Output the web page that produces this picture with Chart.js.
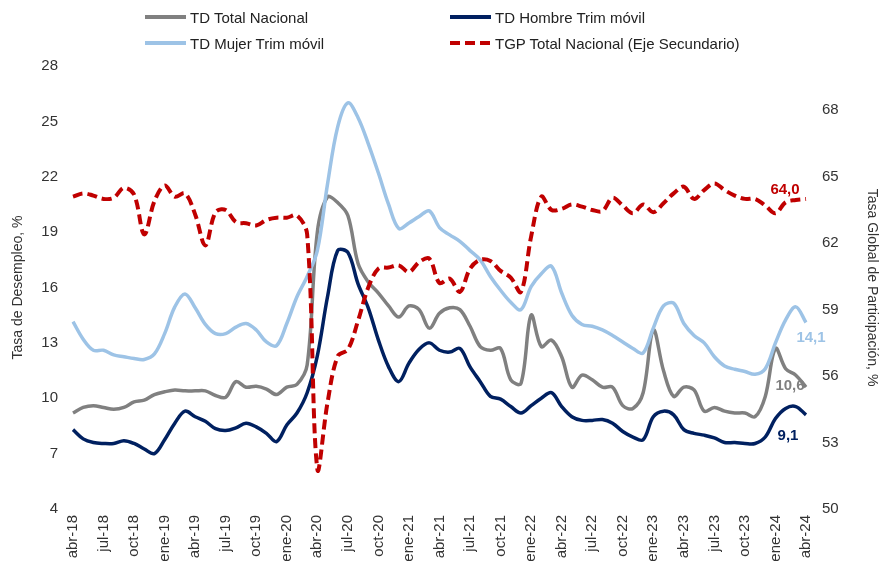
<!DOCTYPE html>
<html>
<head>
<meta charset="utf-8">
<title>Tasa de desempleo y TGP</title>
<script src="https://cdn.jsdelivr.net/npm/chart.js@4"></script>
<style>
  html, body { margin: 0; padding: 0; background: #fff; }
  #wrap { position: relative; width: 888px; height: 567px; }
  #legend { position: absolute; left: 0; top: 0; width: 888px; height: 60px;
    font: 15px 'Liberation Sans', Arial, sans-serif; color: #222; }
  .item { position: absolute; height: 20px; display: flex; align-items: center; white-space: nowrap; }
  .swatch { width: 41px; height: 4px; margin-right: 4px; }
</style>
</head>
<body>
<div id="wrap">
  <canvas id="chart" width="888" height="567"></canvas>
  <div id="legend"></div>
</div>
<script>
const months = [
  'abr-18','may-18','jun-18','jul-18','ago-18','sep-18','oct-18','nov-18','dic-18',
  'ene-19','feb-19','mar-19','abr-19','may-19','jun-19','jul-19','ago-19','sep-19','oct-19','nov-19','dic-19',
  'ene-20','feb-20','mar-20','abr-20','may-20','jun-20','jul-20','ago-20','sep-20','oct-20','nov-20','dic-20',
  'ene-21','feb-21','mar-21','abr-21','may-21','jun-21','jul-21','ago-21','sep-21','oct-21','nov-21','dic-21',
  'ene-22','feb-22','mar-22','abr-22','may-22','jun-22','jul-22','ago-22','sep-22','oct-22','nov-22','dic-22',
  'ene-23','feb-23','mar-23','abr-23','may-23','jun-23','jul-23','ago-23','sep-23','oct-23','nov-23','dic-23',
  'ene-24','feb-24','mar-24','abr-24'
];

const tdTotal = [
  9.2, 9.5, 9.6, 9.5, 9.4, 9.5, 9.8, 9.9, 10.2,
  10.35, 10.45, 10.4, 10.4, 10.4, 10.15, 10.05, 10.9, 10.6, 10.65, 10.5, 10.2,
  10.6, 10.75, 11.8, 19.0, 20.9, 20.6, 19.9, 17.3, 16.3, 15.7, 15.0, 14.4,
  15.0, 14.8, 13.8, 14.6, 14.9, 14.8, 13.9, 12.8, 12.6, 12.7, 11.0, 10.8,
  14.5, 12.8, 13.15, 12.25, 10.6, 11.25, 11.0, 10.6, 10.6, 9.6, 9.45, 10.3,
  13.7, 11.5, 10.1, 10.6, 10.45, 9.3, 9.5, 9.3, 9.2, 9.2, 9.0, 10.1,
  12.7, 11.6, 11.25, 10.6
];

const tdHombre = [
  8.3, 7.8, 7.6, 7.55, 7.55, 7.7, 7.55, 7.25, 7.0,
  7.75, 8.65, 9.3, 9.0, 8.75, 8.35, 8.25, 8.4, 8.65, 8.45, 8.1, 7.65,
  8.55, 9.2, 10.3, 12.3, 15.5, 18.0, 17.9, 16.2, 14.9, 13.15, 11.7, 10.9,
  11.9, 12.65, 13.0, 12.6, 12.5, 12.7, 11.7, 10.9, 10.1, 9.95, 9.55, 9.2,
  9.6, 10.0, 10.3, 9.55, 9.0, 8.8, 8.8, 8.85, 8.65, 8.2, 7.9, 7.75,
  9.0, 9.3, 9.1, 8.3, 8.1, 8.0, 7.85, 7.6, 7.6, 7.55, 7.55, 7.9,
  8.9, 9.45, 9.55, 9.1
];

const tdMujer = [
  14.15, 13.2, 12.6, 12.6, 12.35, 12.25, 12.15, 12.1, 12.4,
  13.5, 14.95, 15.65, 14.9, 14.0, 13.5, 13.5, 13.85, 14.05, 13.7, 13.05, 12.85,
  14.05, 15.5, 16.6, 18.0, 21.6, 24.7, 26.0, 25.2, 23.8, 22.2, 20.5, 19.2,
  19.5, 19.85, 20.15, 19.25, 18.85, 18.5, 18.0, 17.5, 16.6, 15.85, 15.2, 14.8,
  16.05, 16.75, 17.15, 15.7, 14.5, 14.0, 13.9, 13.7, 13.4, 13.05, 12.7, 12.45,
  13.8, 15.0, 15.15, 14.05, 13.4, 13.0, 12.25, 11.75, 11.57, 11.45, 11.3, 11.6,
  13.0, 14.25, 14.95, 14.1
];

const tgpTotal = [
  64.1, 64.25, 64.15, 64.0, 64.05, 64.5, 64.2, 62.4, 63.9,
  64.6, 64.1, 64.25, 63.3, 61.9, 63.4, 63.5, 62.95, 62.9, 62.8, 63.05, 63.15,
  63.15, 63.25, 62.4, 51.8, 54.8, 56.9, 57.2, 58.5, 60.0, 60.85, 60.9, 61.0,
  60.7, 61.15, 61.3, 60.2, 60.4, 59.8, 60.85, 61.25, 61.2, 60.75, 60.45, 59.8,
  62.3, 64.1, 63.5, 63.55, 63.75, 63.65, 63.5, 63.45, 64.05, 63.7, 63.35, 63.75,
  63.4, 63.8, 64.25, 64.55, 64.0, 64.4, 64.7, 64.4, 64.15, 64.0, 64.0, 63.7,
  63.35, 63.85, 63.95, 64.0
];

const leftTicks = [4, 7, 10, 13, 16, 19, 22, 25, 28];
const rightTicks = [50, 53, 56, 59, 62, 65, 68];

const FONT = "'Liberation Sans', Arial, sans-serif";
const TEXT = '#333333';

// value labels at the last point of each series
const endLabels = {
  id: 'endLabels',
  afterDatasetsDraw(chart) {
    const ctx = chart.ctx;
    chart.data.datasets.forEach((ds, i) => {
      if (!ds.endLabel) return;
      const meta = chart.getDatasetMeta(i);
      const pt = meta.data[meta.data.length - 1];
      const v = ds.data[ds.data.length - 1];
      ctx.save();
      ctx.font = 'bold 15px ' + FONT;
      ctx.fillStyle = ds.borderColor;
      ctx.textAlign = 'center';
      ctx.textBaseline = 'middle';
      ctx.fillText(v.toFixed(1).replace('.', ','), pt.x + ds.endLabel.dx, pt.y + ds.endLabel.dy);
      ctx.restore();
    });
  }
};

const datasets = [
  {
    label: 'TD Total Nacional', data: tdTotal, yAxisID: 'y',
    borderColor: '#808080', borderWidth: 3.5, order: 3,
    endLabel: { dx: -16, dy: -1 }
  },
  {
    label: 'TD Hombre Trim móvil', data: tdHombre, yAxisID: 'y',
    borderColor: '#002060', borderWidth: 3.5, order: 2,
    endLabel: { dx: -18, dy: 21 }
  },
  {
    label: 'TD Mujer Trim móvil', data: tdMujer, yAxisID: 'y',
    borderColor: '#9DC3E6', borderWidth: 3.5, order: 1,
    endLabel: { dx: 5, dy: 15 }
  },
  {
    label: 'TGP Total Nacional (Eje Secundario)', data: tgpTotal, yAxisID: 'y1',
    borderColor: '#C00000', borderWidth: 4, borderDash: [10, 5], order: 0,
    endLabel: { dx: -21, dy: -9 }
  }
];

const chart = new Chart(document.getElementById('chart'), {
  type: 'line',
  data: { labels: months, datasets },
  plugins: [endLabels],
  options: {
    responsive: false,
    animation: false,
    layout: { padding: { top: 66, left: 0, right: 0, bottom: 0 } },
    elements: {
      point: { radius: 0 },
      line: { tension: 0.35, fill: false }
    },
    plugins: {
      legend: { display: false },
      tooltip: { enabled: false }
    },
    scales: {
      x: {
        offset: false,
        grid: { display: false, drawTicks: false },
        border: { display: false },
        ticks: {
          autoSkip: false,
          maxRotation: 90,
          minRotation: 90,
          padding: 6,
          color: TEXT,
          font: { family: FONT, size: 15 },
          callback: (v, i) => (i % 3 === 0 ? months[i] : '')
        },
        afterFit: (s) => { s.height = 58; }
      },
      y: {
        position: 'left',
        min: 4, max: 28,
        grid: { display: false, drawTicks: false },
        border: { display: false },
        ticks: { padding: 15, color: TEXT, font: { family: FONT, size: 15 } },
        afterBuildTicks: (s) => { s.ticks = leftTicks.map(v => ({ value: v })); },
        title: {
          display: true, text: 'Tasa de Desempleo, %', color: TEXT,
          font: { family: FONT, size: 14 }, padding: { top: 10, bottom: 0 }
        },
        afterFit: (s) => { s.width = 73; }
      },
      y1: {
        position: 'right',
        min: 50, max: 70,
        grid: { display: false, drawTicks: false },
        border: { display: false },
        ticks: { padding: 16, color: TEXT, font: { family: FONT, size: 15 } },
        afterBuildTicks: (s) => { s.ticks = rightTicks.map(v => ({ value: v })); },
        title: {
          display: true, text: 'Tasa Global de Participación, %', color: TEXT,
          font: { family: FONT, size: 14 }, padding: { top: 8, bottom: 0 }
        },
        afterFit: (s) => { s.width = 82; }
      }
    }
  }
});

// two-column legend like the original
const legendPos = [
  { left: 145, top: 7 },
  { left: 450, top: 7 },
  { left: 145, top: 33 },
  { left: 450, top: 33 }
];
const legend = document.getElementById('legend');
datasets.forEach((ds, k) => {
  const item = document.createElement('div');
  item.className = 'item';
  item.style.left = legendPos[k].left + 'px';
  item.style.top = legendPos[k].top + 'px';
  const sw = document.createElement('span');
  sw.className = 'swatch';
  if (ds.borderDash) {
    sw.style.background = `repeating-linear-gradient(90deg, ${ds.borderColor} 0 10px, transparent 10px 15px)`;
  } else {
    sw.style.background = ds.borderColor;
  }
  const txt = document.createElement('span');
  txt.textContent = ds.label;
  item.appendChild(sw);
  item.appendChild(txt);
  legend.appendChild(item);
});
</script>
</body>
</html>
